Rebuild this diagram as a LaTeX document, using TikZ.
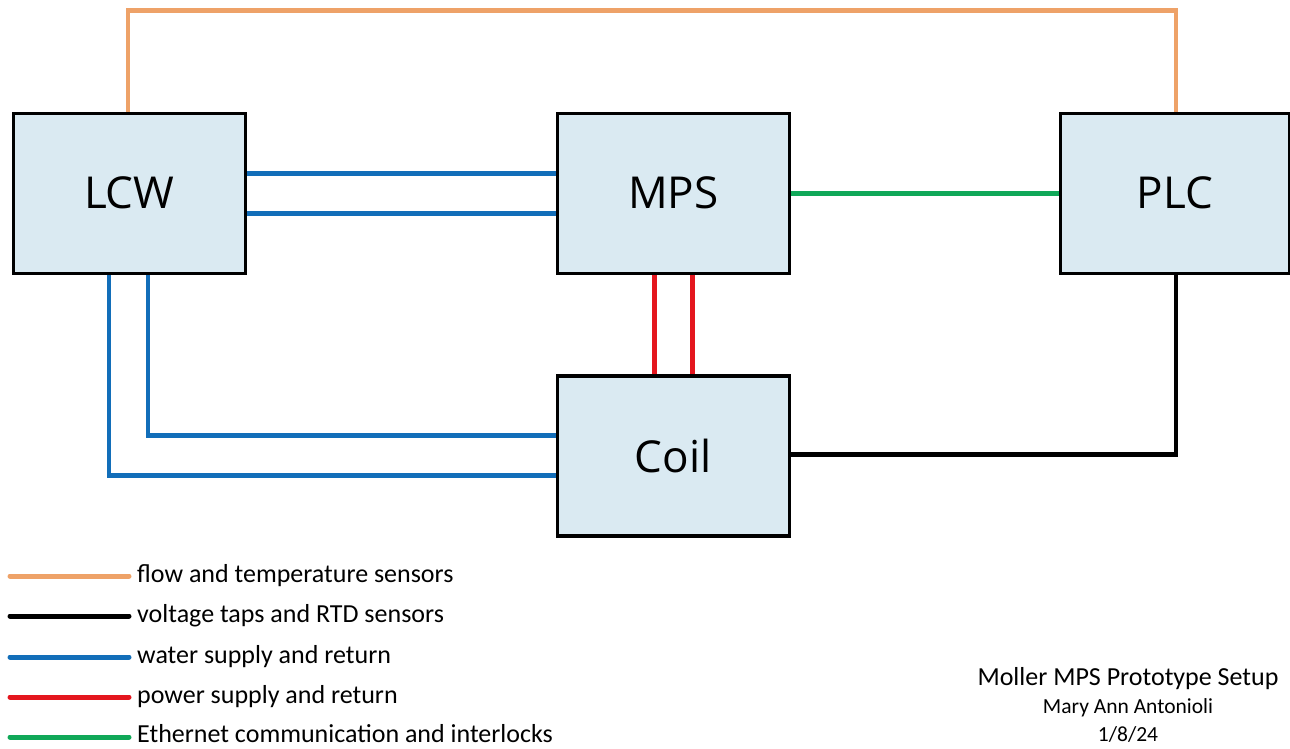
\documentclass[tikz,border=0pt]{standalone}
\usepackage{fontspec}
\setmainfont{Carlito}
\newfontfamily\boxfont{Open Sans}
\definecolor{boxfill}{RGB}{218,234,242}
\definecolor{cOrange}{RGB}{238,162,104}
\definecolor{cBlue}{RGB}{18,110,185}
\definecolor{cRed}{RGB}{228,22,30}
\definecolor{cGreen}{RGB}{16,168,88}
\begin{document}
\begin{tikzpicture}[x=1pt,y=-1pt,
  blockbox/.style={draw=black,line width=3.5pt,fill=boxfill,minimum width=232pt,minimum height=160pt,anchor=north west,inner sep=0pt},
  boxlabel/.style={font=\boxfont\fontsize{44}{50}\selectfont},
  wire/.style={line width=4.8pt},
  legtext/.style={anchor=west,inner sep=0pt,text height=17pt,text depth=5pt,font=\fontsize{26}{30}\selectfont},
  legline/.style={line width=5pt,line cap=round},
  titletext/.style={inner sep=0pt}]
\path[use as bounding box] (0,0) rectangle (1290,748);
% box positions
\coordinate (pLCW) at (11.5,111.5);
\coordinate (pMPS) at (555.5,111.5);
\coordinate (pPLC) at (1058.5,111.5);
\coordinate (pCoil) at (555.5,374);
\node[blockbox] (LCW) at (pLCW) {};
\node[blockbox] (MPS) at (pMPS) {};
\node[blockbox,minimum width=229pt] (PLC) at (pPLC) {};
\node[blockbox] (Coil) at (pCoil) {};
% connectors
\draw[wire,cOrange] ([xshift=116.5pt]LCW.north west) |- ([xshift=117.5pt,yshift=101pt]PLC.north west) -- ([xshift=117.5pt]PLC.north west);
\draw[wire,cBlue] ([yshift=20pt]LCW.east) -- ([yshift=20pt]MPS.west);
\draw[wire,cBlue] ([yshift=-20pt]LCW.east) -- ([yshift=-20pt]MPS.west);
\draw[wire,cGreen] (MPS.east) -- (PLC.west);
\draw[wire,cRed] ([xshift=-19pt]MPS.south) -- ([xshift=-19pt]Coil.north);
\draw[wire,cRed] ([xshift=19pt]MPS.south) -- ([xshift=19pt]Coil.north);
\draw[wire,cBlue] ([xshift=136.5pt]LCW.south west) |- ([yshift=20pt]Coil.west);
\draw[wire,cBlue] ([xshift=97.5pt]LCW.south west) |- ([yshift=-20pt]Coil.west);
\draw[wire,black] ([xshift=117.5pt]PLC.south west) |- ([yshift=1pt]Coil.east);
% boxes redrawn on top of wire ends
\node[blockbox] at (pLCW) {};
\node[blockbox] at (pMPS) {};
\node[blockbox,minimum width=229pt] at (pPLC) {};
\node[blockbox] at (pCoil) {};
\node[boxlabel] (tLCW) at (LCW.center) {LCW};
\node[boxlabel] (tMPS) at (MPS.center) {MPS};
\node[boxlabel] (tPLC) at (PLC.center) {PLC};
\node[boxlabel] (tCoil) at (Coil.center) {Coil};
% legend
\node[legtext] (l1) at (137,576) {flow and temperature sensors};
\node[legtext] (l2) at (137,616) {voltage taps and RTD sensors};
\node[legtext] (l3) at (137,657) {water supply and return};
\node[legtext] (l4) at (137,697) {power supply and return};
\node[legtext] (l5) at (137,736) {Ethernet communication and interlocks};
\coordinate (s1) at (10,576);
\coordinate (s2) at (10,616);
\coordinate (s3) at (10,657);
\coordinate (s4) at (10,697);
\coordinate (s5) at (10,737);
\draw[legline,cOrange] (s1) -- ([xshift=-8pt]l1.west);
\draw[legline,black] (s2) -- ([xshift=-8pt]l2.west);
\draw[legline,cBlue] (s3) -- ([xshift=-8pt]l3.west);
\draw[legline,cRed] (s4) -- ([xshift=-8pt]l4.west);
\draw[legline,cGreen] (s5) -- ([xshift=-8pt,yshift=-1pt]l5.west);
% title block
\node[titletext,font=\fontsize{26}{30}\selectfont] (title) at (1128,679) {Moller MPS Prototype Setup};
\node[titletext,font=\fontsize{21.5}{25}\selectfont] (author) at (1128,708) {Mary Ann Antonioli};
\node[titletext,font=\fontsize{21.5}{25}\selectfont] (date) at (1128,734) {1/8/24};
\end{tikzpicture}
\end{document}
